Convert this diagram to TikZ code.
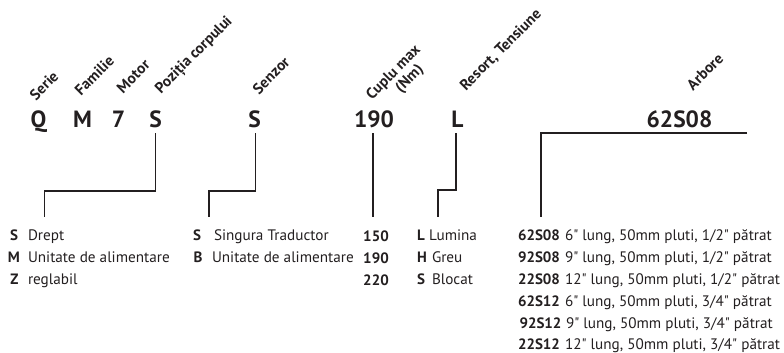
\documentclass[tikz,border=0pt]{standalone}
\usepackage{fontspec}
\setmainfont{PT Sans}[Ligatures=TeXOff]
\definecolor{ink}{HTML}{231F20}
\begin{document}
\begin{tikzpicture}[x=1pt,y=-1pt,
  every node/.style={inner sep=0pt,outer sep=0pt,text=ink},
  big/.style={anchor=base,font=\fontsize{23.5}{28}\selectfont\bfseries},
  head/.style={anchor=base west,rotate=45,font=\fontsize{15.3}{17}\selectfont\bfseries},
  code/.style={anchor=base,font=\fontsize{15}{17}\selectfont\bfseries},
  codew/.style={anchor=base west,font=\fontsize{15}{17}\selectfont\bfseries},
  desc/.style={anchor=base west,font=\fontsize{15.2}{17}\selectfont},
  conn/.style={draw=ink,line width=1.5pt,line cap=butt,line join=miter}]
\useasboundingbox (0,0) rectangle (784,353);
% headings
\node[head] (hSerie) at (36,101) {Serie};
\node[head] (hFam) at (81,96) {Familie};
\node[head] (hMot) at (123,94) {Motor};
\node[head] (hPoz) at (161,94) {Poziția corpului};
\node[head] (hSen) at (259,95) {Senzor};
\node[head] (hCup) at (372,100) {Cuplu max};
\node[head] (hNm) at (401,93) {(Nm)};
\node[head] (hRes) at (466,91) {Resort, Tensiune};
\node[head] (hArb) at (693,91) {Arbore};
% code letters
\node[big] (Q) at (38.5,127) {Q};
\node[big] (M) at (82.5,127) {M};
\node[big] (N7) at (118.5,127) {7};
\node[big] (S1) at (155.5,127) {S};
\node[big] (S2) at (254.5,127) {S};
\node[big] (T190) at (374,127) {190};
\node[big] (L) at (457.5,127) {L};
\node[big] (A) at (679.5,127) {62S08};
% connector corner coordinates
\coordinate (p1a) at (155.7,133);
\coordinate (p1b) at (155.7,191);
\coordinate (p1c) at (44.5,191);
\coordinate (p1d) at (44.5,217);
\coordinate (p2a) at (255.7,133);
\coordinate (p2b) at (255.7,191);
\coordinate (p2c) at (209,191);
\coordinate (p2d) at (209,217);
\coordinate (p3a) at (373,133);
\coordinate (p3d) at (373,217);
\coordinate (p4a) at (456,133);
\coordinate (p4b) at (456,190);
\coordinate (p4c) at (438,190);
\coordinate (p4d) at (438,217);
\coordinate (p5a) at (747,133);
\coordinate (p5b) at (541,133);
\coordinate (p5d) at (541,217);
\draw[conn] (p1a) -- (p1b) -- (p1c) -- (p1d);
\draw[conn] (p2a) -- (p2b) -- (p2c) -- (p2d);
\draw[conn] (p3a) -- (p3d);
\draw[conn] (p4a) -- (p4b) -- (p4c) -- (p4d);
\draw[conn] (p5a) -- (p5b) -- (p5d);
% column 1
\node[code] (c1a) at (14,240) {S};
\node[desc] (d1a) at (28,240) {Drept};
\node[code] (c1b) at (14,262) {M};
\node[desc] (d1b) at (28,262) {Unitate de alimentare};
\node[code] (c1c) at (14.5,284) {Z};
\node[desc] (d1c) at (28,284) {reglabil};
% column 2
\node[code] (c2a) at (197,240) {S};
\node[desc] (d2a) at (214,240) {Singura Traductor};
\node[code] (c2b) at (198,262) {B};
\node[desc] (d2b) at (212,262) {Unitate de alimentare};
% column 3
\node[code] (c3a) at (376,241) {150};
\node[code] (c3b) at (376,263) {190};
\node[code] (c3c) at (376,285) {220};
% column 4
\node[codew] (c4a) at (417,240) {L};
\node[desc] (d4a) at (429,240) {Lumina};
\node[codew] (c4b) at (417,262) {H};
\node[desc] (d4b) at (432,262) {Greu};
\node[codew] (c4c) at (417,284) {S};
\node[desc] (d4c) at (432,284) {Blocat};
% column 5
\node[codew] (c5a) at (518,240) {62S08};
\node[desc] (d5a) at (565,240) {6" lung, 50mm pluti, 1/2" pătrat};
\node[codew] (c5b) at (518,262) {92S08};
\node[desc] (d5b) at (565,262) {9" lung, 50mm pluti, 1/2" pătrat};
\node[codew] (c5c) at (518,284) {22S08};
\node[desc] (d5c) at (565,284) {12" lung, 50mm pluti, 1/2" pătrat};
\node[codew] (c5d) at (518,306) {62S12};
\node[desc] (d5d) at (565,306) {6" lung, 50mm pluti, 3/4" pătrat};
\node[codew] (c5e) at (519.5,328) {92S12};
\node[desc] (d5e) at (566,328) {9" lung, 50mm pluti, 3/4" pătrat};
\node[codew] (c5f) at (518,349) {22S12};
\node[desc] (d5f) at (565,349) {12" lung, 50mm pluti, 3/4" pătrat};
\end{tikzpicture}
\end{document}
